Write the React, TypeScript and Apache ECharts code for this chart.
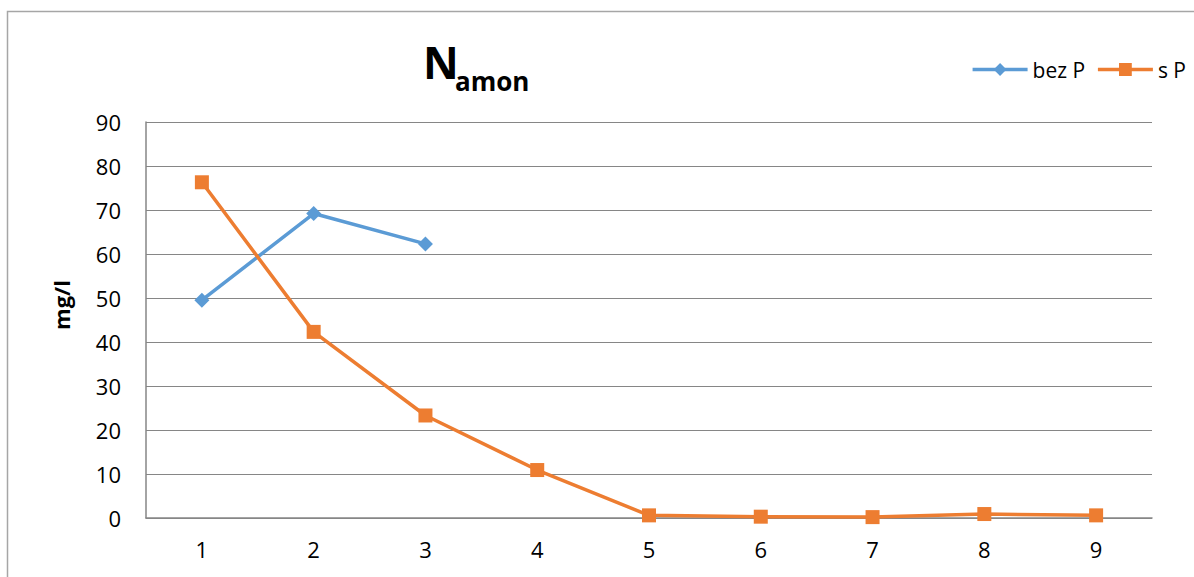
import React, { useEffect, useRef } from "react";
import * as echarts from "echarts";

const categories = ["1", "2", "3", "4", "5", "6", "7", "8", "9"];
const bezP: (number | null)[] = [49.5, 69.2, 62.3, null, null, null, null, null, null];
const sP: number[] = [76.3, 42.3, 23.3, 10.9, 0.6, 0.3, 0.2, 0.9, 0.6];
const yTicks = { min: 0, max: 90, interval: 10 };

const FONT = "'Open Sans', 'Noto Sans', sans-serif";

export default function App() {
  const ref = useRef<HTMLDivElement>(null);

  useEffect(() => {
    if (!ref.current) return;
    const chart = echarts.init(ref.current, undefined, { renderer: "svg" });
    chart.setOption({
      animation: false,
      backgroundColor: "#ffffff",
      textStyle: { fontFamily: FONT },
      grid: { left: 146, right: 42, top: 122, bottom: 59, containLabel: false },
      graphic: [
        {
          type: "rect",
          shape: { x: 7.5, y: 11.5, width: 1400, height: 800 },
          style: { fill: "none", stroke: "#a6a6a6", lineWidth: 1.5 },
          silent: true,
        },
        {
          type: "text",
          left: 423,
          top: 40,
          style: { text: "N", font: `bold 44px ${FONT}`, fill: "#000" },
        },
        {
          type: "text",
          left: 455,
          top: 68,
          style: { text: "amon", font: `bold 26px ${FONT}`, fill: "#000" },
        },
        {
          type: "text",
          x: 61,
          y: 305,
          rotation: Math.PI / 2,
          style: {
            text: "mg/l",
            font: `bold 22px ${FONT}`,
            fill: "#000",
            align: "center",
            verticalAlign: "middle",
          },
        },
      ],
      legend: {
        top: 54,
        right: 3,
        itemWidth: 55,
        itemHeight: 16,
        itemGap: 11,
        lineStyle: { width: 3.5 },
        textStyle: { fontSize: 21, color: "#000", fontFamily: FONT },
        data: ["bez P", "s P"],
      },
      xAxis: {
        type: "category",
        data: categories,
        boundaryGap: true,
        axisLine: { lineStyle: { color: "#868686", width: 1.5 } },
        axisTick: { show: false },
        axisLabel: { color: "#000", fontSize: 22, margin: 20, fontFamily: FONT },
      },
      yAxis: {
        type: "value",
        min: yTicks.min,
        max: yTicks.max,
        interval: yTicks.interval,
        axisLine: { show: true, lineStyle: { color: "#868686", width: 1.5 } },
        axisTick: { show: false },
        axisLabel: { color: "#000", fontSize: 22, margin: 25, fontFamily: FONT },
        splitLine: { lineStyle: { color: "#868686", width: 1 } },
      },
      series: [
        {
          name: "bez P",
          type: "line",
          data: bezP,
          connectNulls: false,
          symbol: "diamond",
          symbolSize: 15,
          lineStyle: { color: "#5B9BD5", width: 3.5 },
          itemStyle: { color: "#5B9BD5" },
        },
        {
          name: "s P",
          type: "line",
          data: sP,
          symbol: "rect",
          symbolSize: 14,
          lineStyle: { color: "#ED7D31", width: 3.5 },
          itemStyle: { color: "#ED7D31" },
        },
      ],
    });
    return () => chart.dispose();
  }, []);

  return (
    <div
      ref={ref}
      style={{ position: "absolute", left: 0, top: 0, width: 1194, height: 577 }}
    />
  );
}
